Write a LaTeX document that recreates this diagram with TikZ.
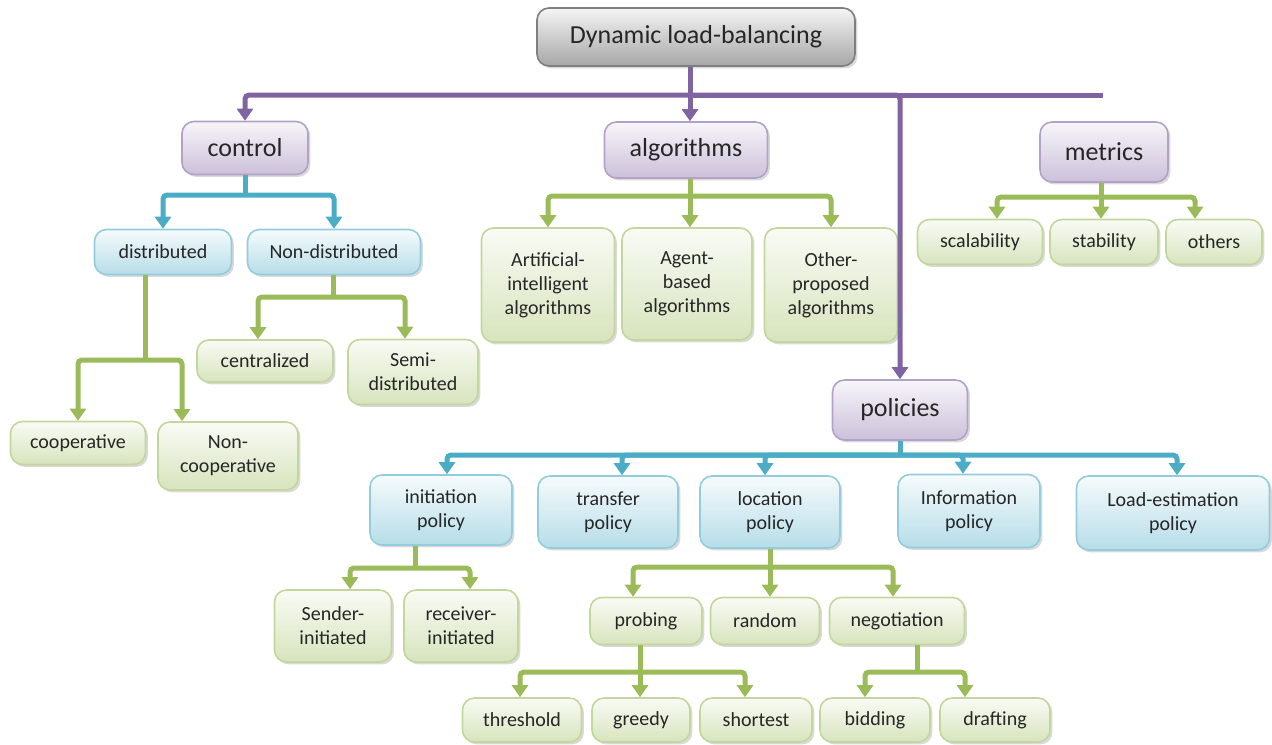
\documentclass[tikz,border=0pt]{standalone}
\usepackage{fontspec}
\setmainfont{Carlito}
\usetikzlibrary{arrows.meta,shadows}

\definecolor{purpleline}{HTML}{8064A2}
\definecolor{blueline}{HTML}{4BACC6}
\definecolor{greenline}{HTML}{9BBB59}
\definecolor{grayedge}{HTML}{7F7F7F}
\definecolor{purpleedge}{HTML}{B3A2C7}
\definecolor{blueedge}{HTML}{93CDDD}
\definecolor{greenedge}{HTML}{C3D69B}
\definecolor{grayfill}{HTML}{A6A6A6}
\definecolor{purplefill}{HTML}{CCC0DA}
\definecolor{bluefill}{HTML}{B6DDE8}
\definecolor{greenfill}{HTML}{D7E4BD}

\begin{document}
\begin{tikzpicture}[x=0.5pt,y=-0.5pt]
        \tikzstyle{box} = [rectangle, rounded corners=6pt, line width=0.8pt, align=center, text=black!85, inner sep=2pt, drop shadow={opacity=0.3,shadow xshift=1.2pt,shadow yshift=-1.2pt}]
        \tikzstyle{topbox} = [box, draw=grayedge, top color=gray!8, bottom color=grayfill, font=\fontsize{13}{15.6}\selectfont]
        \tikzstyle{catbox} = [box, draw=purpleedge, top color=purplefill!15, bottom color=purplefill, font=\fontsize{13}{15.6}\selectfont]
        \tikzstyle{bluebox} = [box, draw=blueedge, top color=bluefill!12, bottom color=bluefill, font=\fontsize{10}{12}\selectfont]
        \tikzstyle{greenbox} = [box, draw=greenedge, top color=greenfill!15, bottom color=greenfill, font=\fontsize{10}{12}\selectfont]
        \tikzstyle{pline} = [line width=2.5pt, draw=purpleline, rounded corners=2pt]
        \tikzstyle{bline} = [line width=2.5pt, draw=blueline, rounded corners=2pt]
        \tikzstyle{gline} = [line width=2.5pt, draw=greenline, rounded corners=2pt]
        \tikzstyle{parrow} = [pline, -{Triangle[width=8pt,length=6pt]}]
        \tikzstyle{barrow} = [bline, -{Triangle[width=8pt,length=6pt]}]
        \tikzstyle{garrow} = [gline, -{Triangle[width=8pt,length=6pt]}]

        \useasboundingbox (0,0) rectangle (1272,744);

        % top and main categories
        \node (top) [topbox, minimum width=159pt, minimum height=29pt] at (696,37) {Dynamic load-balancing};
        \node (ctrl) [catbox, minimum width=63pt, minimum height=26.5pt] at (245,148) {control};
        \node (algo) [catbox, minimum width=81.5pt, minimum height=28pt] at (686,150) {algorithms};
        \node (metr) [catbox, minimum width=64pt, minimum height=30pt] at (1104,152) {metrics};
        \node (poli) [catbox, minimum width=67.5pt, minimum height=30pt] at (900,410) {policies};

        % control
        \node (dist) [bluebox, minimum width=68.5pt, minimum height=22.5pt] at (163,252) {distributed};
        \node (ndist) [bluebox, minimum width=86.5pt, minimum height=22.5pt] at (334,252) {Non-distributed};
        \node (coop) [greenbox, minimum width=67.5pt, minimum height=21.5pt] at (78,443) {cooperative};
        \node (ncoop) [greenbox, minimum width=70pt, minimum height=34pt] at (228,456) {Non-\\cooperative};
        \node (cent) [greenbox, minimum width=68pt, minimum height=21pt] at (265,361) {centralized};
        \node (semi) [greenbox, minimum width=65pt, minimum height=32.5pt] at (413,372) {Semi-\\distributed};

        % algorithms
        \node (ai) [greenbox, minimum width=66.5pt, minimum height=57pt] at (548,285) {Artificial-\\intelligent\\algorithms};
        \node (agent) [greenbox, minimum width=65pt, minimum height=56pt] at (687,284) {Agent-\\based\\algorithms};
        \node (other) [greenbox, minimum width=66.5pt, minimum height=57pt] at (831,285) {Other-\\proposed\\algorithms};

        % metrics
        \node (scal) [greenbox, minimum width=62.5pt, minimum height=22.5pt] at (980,242) {scalability};
        \node (stab) [greenbox, minimum width=54pt, minimum height=22.5pt] at (1104,242) {stability};
        \node (oth) [greenbox, minimum width=48pt, minimum height=22.5pt] at (1214,242) {others};

        % policies
        \node (init) [bluebox, minimum width=71pt, minimum height=35pt] at (441,510) {initiation\\policy};
        \node (trans) [bluebox, minimum width=70pt, minimum height=36pt] at (608,512) {transfer\\policy};
        \node (loc) [bluebox, minimum width=70pt, minimum height=36pt] at (770,512) {location\\policy};
        \node (info) [bluebox, minimum width=71pt, minimum height=36.5pt] at (969,511) {Information\\policy};
        \node (lest) [bluebox, minimum width=96.5pt, minimum height=37pt] at (1173,513) {Load-estimation\\policy};
        \node (send) [greenbox, minimum width=58.5pt, minimum height=36pt] at (333,626) {Sender-\\initiated};
        \node (recv) [greenbox, minimum width=57pt, minimum height=36pt] at (461,626) {receiver-\\initiated};
        \node (prob) [greenbox, minimum width=56pt, minimum height=23.5pt] at (646,621) {probing};
        \node (rand) [greenbox, minimum width=54.5pt, minimum height=23.5pt] at (765,621) {random};
        \node (nego) [greenbox, minimum width=67.5pt, minimum height=23.5pt] at (897,621) {negotiation};
        \node (thr) [greenbox, minimum width=59.5pt, minimum height=22pt] at (522,720) {threshold};
        \node (greedy) [greenbox, minimum width=49pt, minimum height=22pt] at (641,720) {greedy};
        \node (short) [greenbox, minimum width=56pt, minimum height=22pt] at (756,720) {shortest};
        \node (bid) [greenbox, minimum width=55pt, minimum height=22pt] at (875,720) {bidding};
        \node (draft) [greenbox, minimum width=55pt, minimum height=22pt] at (995,720) {drafting};

        % purple bus
        \coordinate (pj) at (690,95);
        \coordinate (pend) at (1103,95);
        \draw [pline] (top.south -| pj) -- (pj);
        \draw [pline] (pj) -- (pend);
        \draw [parrow] (pj) -| (ctrl.north);
        \draw [parrow] (pj) -- (algo.north -| pj);
        \draw [parrow] (pj) -| (poli.north);

        % control branch
        \coordinate (cj) at (245,195);
        \draw [bline] (ctrl.south) -- (cj);
        \draw [barrow] (cj) -| (dist.north);
        \draw [barrow] (cj) -| (ndist.north);
        \coordinate (dj) at (145,360);
        \draw [gline] (dist.south -| dj) -- (dj);
        \draw [garrow] (dj) -| (coop.north);
        \draw [garrow] (dj) -| ([xshift=-23pt]ncoop.north);
        \coordinate (nj) at (333,297);
        \draw [gline] (ndist.south -| nj) -- (nj);
        \draw [garrow] (nj) -| ([xshift=-3.5pt]cent.north);
        \draw [garrow] (nj) -| ([xshift=-4pt]semi.north);

        % algorithms branch
        \coordinate (aj) at (690,196);
        \draw [gline] (algo.south -| aj) -- (aj);
        \draw [garrow] (aj) -| (ai.north);
        \draw [garrow] (aj) -- (agent.north -| aj);
        \draw [garrow] (aj) -| (other.north);

        % metrics branch
        \coordinate (mj) at (1101,197);
        \draw [gline] (metr.south -| mj) -- (mj);
        \draw [garrow] (mj) -| ([xshift=8.5pt]scal.north);
        \draw [garrow] (mj) -- (stab.north -| mj);
        \draw [garrow] (mj) -| ([xshift=-9.5pt]oth.north);

        % policies branch
        \coordinate (lj) at (900,455);
        \draw [bline] (poli.south) -- (lj);
        \draw [barrow] (lj) -| ([xshift=3pt]init.north);
        \draw [barrow] (lj) -| ([xshift=7pt]trans.north);
        \draw [barrow] (lj) -| ([xshift=-2.5pt]loc.north);
        \draw [barrow] (lj) -| ([xshift=-3pt]info.north);
        \draw [barrow] (lj) -| ([xshift=2pt]lest.north);
        \coordinate (ij) at (415,568);
        \draw [gline] (init.south -| ij) -- (ij);
        \draw [garrow] (ij) -| ([xshift=8.5pt]send.north);
        \draw [garrow] (ij) -| ([xshift=4.5pt]recv.north);
        \coordinate (oj) at (770,567);
        \draw [gline] (loc.south) -- (oj);
        \draw [garrow] (oj) -| ([xshift=-6.5pt]prob.north);
        \draw [garrow] (oj) -- (rand.north -| oj);
        \draw [garrow] (oj) -| ([xshift=-2pt]nego.north);
        \coordinate (rj) at (640,672);
        \draw [gline] (prob.south -| rj) -- (rj);
        \draw [garrow] (rj) -| ([xshift=-1pt]thr.north);
        \draw [garrow] (rj) -- (greedy.north -| rj);
        \draw [garrow] (rj) -| ([xshift=-5.5pt]short.north);
        \coordinate (gj) at (917,672);
        \draw [gline] (nego.south -| gj) -- (gj);
        \draw [garrow] (gj) -| ([xshift=-5pt]bid.north);
        \draw [garrow] (gj) -| ([xshift=-15pt]draft.north);
\end{tikzpicture}
\end{document}
